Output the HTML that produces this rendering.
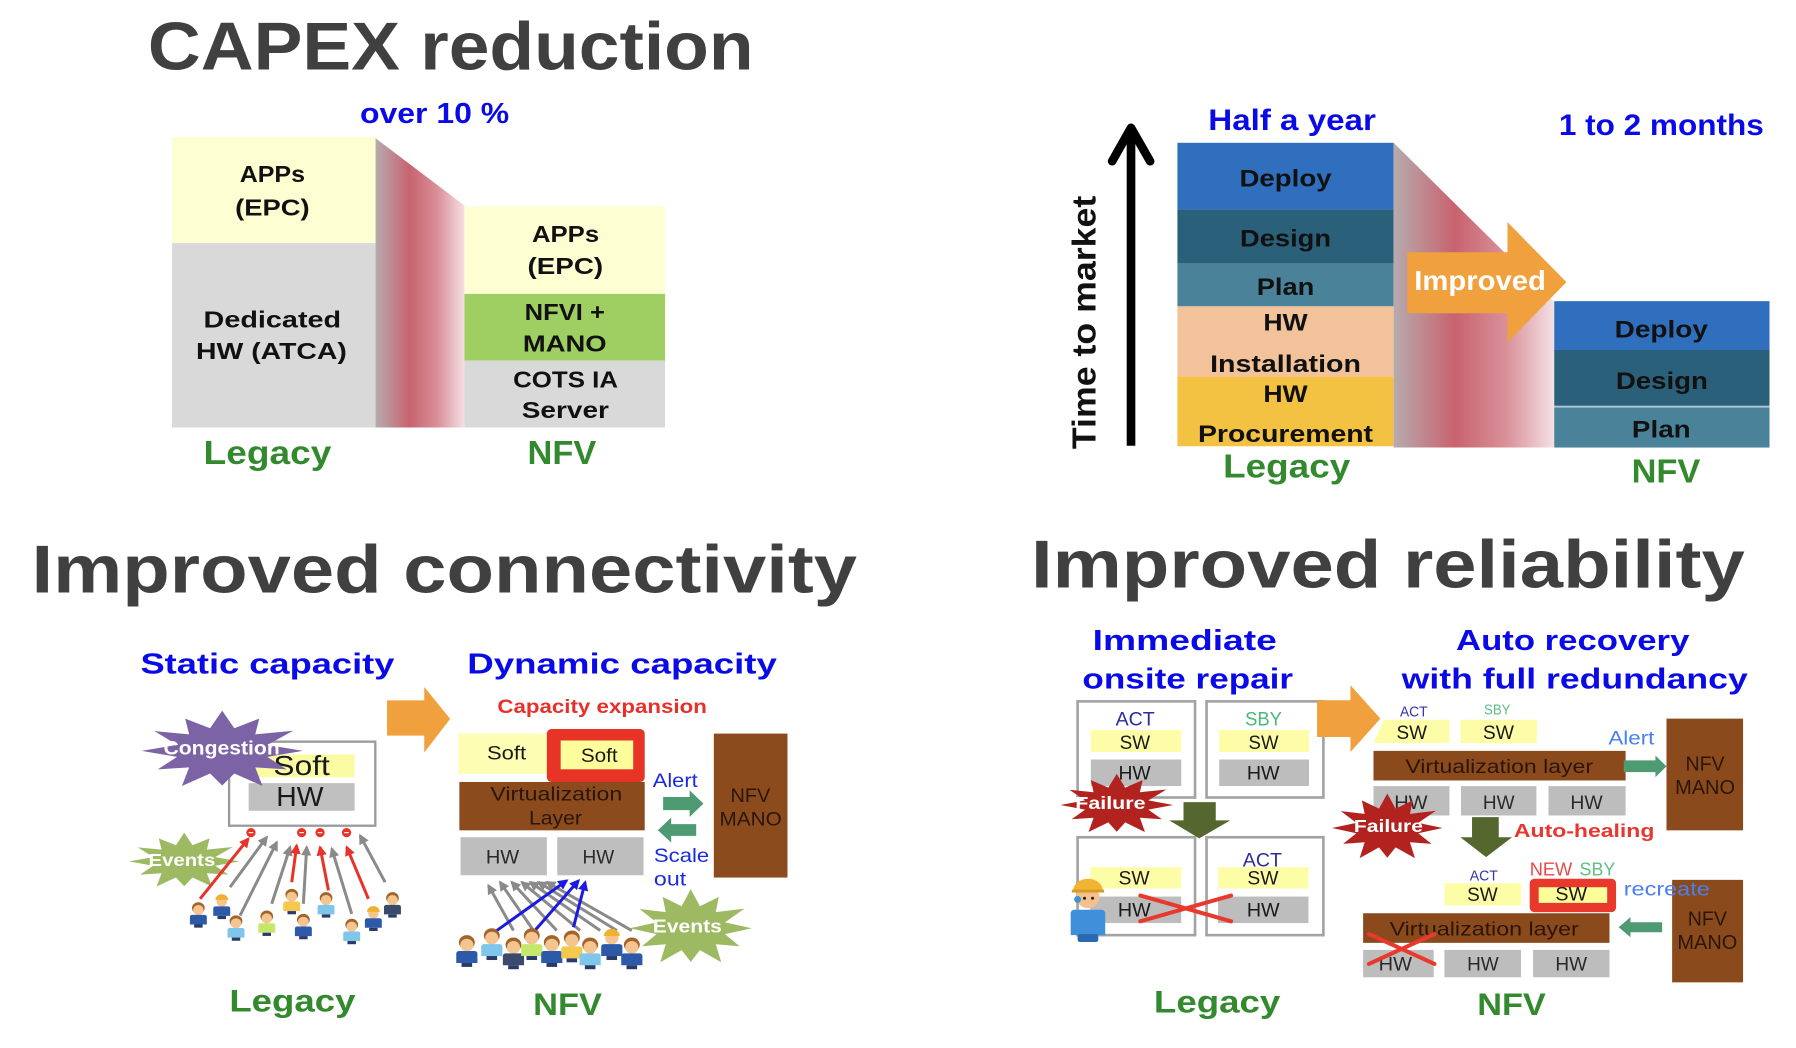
<!DOCTYPE html>
<html>
<head>
<meta charset="utf-8">
<style>
html,body{margin:0;padding:0;background:#fff;}
svg{display:block;}
text{font-family:"Liberation Sans",Arial,sans-serif;}
.b{font-weight:bold;}
</style>
</head>
<body>
<svg width="1796" height="1048" viewBox="0 0 1560 910" preserveAspectRatio="none" xmlns="http://www.w3.org/2000/svg">
<defs>
  <linearGradient id="band" x1="0" y1="0" x2="1" y2="0">
    <stop offset="0" stop-color="#b6abae"/>
    <stop offset="0.38" stop-color="#c8636f"/>
    <stop offset="0.7" stop-color="#d99099"/>
    <stop offset="1" stop-color="#f4e0e4"/>
  </linearGradient>
  <polygon id="star" points="1,0 0.56,0.15 0.8,0.46 0.41,0.41 0.5,0.87 0.15,0.56 0,0.86 -0.15,0.56 -0.5,0.87 -0.41,0.41 -0.8,0.46 -0.56,0.15 -1,0 -0.56,-0.15 -0.84,-0.49 -0.41,-0.41 -0.46,-0.8 -0.15,-0.56 0,-1 0.15,-0.56 0.46,-0.8 0.41,-0.41 0.88,-0.5 0.56,-0.15"/>
  <marker id="mg" viewBox="0 0 10 10" refX="8" refY="5" markerWidth="9" markerHeight="9" markerUnits="userSpaceOnUse" orient="auto"><path d="M0,0 L10,5 L0,10 z" fill="#8a8a8a"/></marker>
  <marker id="mr" viewBox="0 0 10 10" refX="8" refY="5" markerWidth="9" markerHeight="9" markerUnits="userSpaceOnUse" orient="auto"><path d="M0,0 L10,5 L0,10 z" fill="#e8322a"/></marker>
  <marker id="mb" viewBox="0 0 10 10" refX="8" refY="5" markerWidth="9" markerHeight="9" markerUnits="userSpaceOnUse" orient="auto"><path d="M0,0 L10,5 L0,10 z" fill="#1a1ae0"/></marker>
  <g id="person">
    <ellipse cx="0" cy="5.5" rx="6" ry="5.5" fill="#a3642c"/>
    <ellipse cx="0" cy="7.5" rx="5" ry="4.8" fill="#f5c590"/>
    <path d="M-6,12 h12 a2,2 0 0 1 2,2 v7 h-16 v-7 a2,2 0 0 1 2,-2z" fill="currentColor"/>
    <rect x="-4" y="21" width="8" height="3" fill="#2a3a6a"/>
  </g>
  <g id="worker">
    <ellipse cx="0" cy="7.5" rx="5" ry="4.8" fill="#f5c590"/>
    <path d="M-6,6 a6,5.5 0 0 1 12,0 z" fill="#f0b030"/>
    <path d="M-6,12 h12 a2,2 0 0 1 2,2 v7 h-16 v-7 a2,2 0 0 1 2,-2z" fill="currentColor"/>
    <rect x="-4" y="21" width="8" height="3" fill="#2a3a6a"/>
  </g>
</defs>

<!-- ================= CAPEX reduction ================= -->
<text class="b" x="128.5" y="60.3" font-size="59" fill="#404040" textLength="526" lengthAdjust="spacingAndGlyphs">CAPEX reduction</text>
<text class="b" x="312.7" y="106.7" font-size="25" fill="#0a0ae8" textLength="129.5" lengthAdjust="spacingAndGlyphs">over 10 %</text>

<rect x="149.4" y="119" width="176.8" height="92.1" fill="#fefed3"/>
<rect x="149.4" y="211.1" width="176.8" height="160.1" fill="#d9d9d9"/>
<polygon points="326.2,120 403.4,178.4 403.4,371.2 326.2,371.2" fill="url(#band)"/>
<rect x="403.4" y="179.2" width="174.3" height="76" fill="#fefed3"/>
<rect x="403.4" y="255.2" width="174.3" height="58" fill="#9fcf63"/>
<rect x="403.4" y="313.2" width="174.3" height="58" fill="#d9d9d9"/>

<text class="b" x="208.2" y="158" font-size="20" fill="#111" textLength="56.7" lengthAdjust="spacingAndGlyphs">APPs</text>
<text class="b" x="204.2" y="187" font-size="20" fill="#111" textLength="64.7" lengthAdjust="spacingAndGlyphs">(EPC)</text>
<text class="b" x="176.8" y="284.2" font-size="20" fill="#111" textLength="119.5" lengthAdjust="spacingAndGlyphs">Dedicated</text>
<text class="b" x="170.3" y="311.8" font-size="20" fill="#111" textLength="131" lengthAdjust="spacingAndGlyphs">HW (ATCA)</text>

<text class="b" x="462.1" y="210.3" font-size="20" fill="#111" textLength="58.3" lengthAdjust="spacingAndGlyphs">APPs</text>
<text class="b" x="458.2" y="237.8" font-size="20" fill="#111" textLength="65.7" lengthAdjust="spacingAndGlyphs">(EPC)</text>
<text class="b" x="455.7" y="277.8" font-size="20" fill="#111" textLength="69.7" lengthAdjust="spacingAndGlyphs">NFVI +</text>
<text class="b" x="454.2" y="305.1" font-size="20" fill="#111" textLength="72.7" lengthAdjust="spacingAndGlyphs">MANO</text>
<text class="b" x="445.7" y="336.4" font-size="20" fill="#111" textLength="91.1" lengthAdjust="spacingAndGlyphs">COTS IA</text>
<text class="b" x="453.2" y="363.1" font-size="20" fill="#111" textLength="75.7" lengthAdjust="spacingAndGlyphs">Server</text>

<text class="b" x="176.8" y="403.1" font-size="29" fill="#338a2e" textLength="111" lengthAdjust="spacingAndGlyphs">Legacy</text>
<text class="b" x="458.2" y="403.1" font-size="29" fill="#338a2e" textLength="59.7" lengthAdjust="spacingAndGlyphs">NFV</text>

<!-- ================= Time to market ================= -->
<text class="b" x="1049.5" y="113.1" font-size="26" fill="#0a0ae8" textLength="145.6" lengthAdjust="spacingAndGlyphs">Half a year</text>
<text class="b" x="1354" y="117.3" font-size="26" fill="#0a0ae8" textLength="178" lengthAdjust="spacingAndGlyphs">1 to 2 months</text>

<line x1="982.4" y1="387" x2="982.4" y2="114" stroke="#000" stroke-width="7.5"/>
<polyline points="966,140 982.4,111 999,140" fill="none" stroke="#000" stroke-width="7.5" stroke-linecap="round" stroke-linejoin="round"/>
<text class="b" transform="translate(951.6,390) rotate(-90)" font-size="29" fill="#111" textLength="220" lengthAdjust="spacingAndGlyphs">Time to market</text>

<rect x="1022.7" y="124" width="187.8" height="58" fill="#2f6fbe"/>
<rect x="1022.7" y="182" width="187.8" height="47" fill="#2a6079"/>
<rect x="1022.7" y="229" width="187.8" height="37" fill="#4a8399"/>
<rect x="1022.7" y="266" width="187.8" height="61" fill="#f2c39b"/>
<rect x="1022.7" y="327" width="187.8" height="60.5" fill="#f4c243"/>
<polygon points="1210.5,124 1350,262 1350,388.6 1210.5,388.6" fill="url(#band)"/>
<rect x="1350" y="261.5" width="187" height="42.4" fill="#2f6fbe"/>
<rect x="1350" y="303.9" width="187" height="48.5" fill="#2a6079"/>
<rect x="1350" y="352.4" width="187" height="1.5" fill="#a9c7d4"/>
<rect x="1350" y="353.9" width="187" height="34.7" fill="#4a8399"/>

<path d="M1222.4,219 H1309.4 V192.9 L1360.6,245 L1309.4,297.3 V272 H1222.4 Z" fill="#f0a03c"/>
<text class="b" x="1228.4" y="251.7" font-size="24" fill="#fff" textLength="114.3" lengthAdjust="spacingAndGlyphs">Improved</text>

<g text-anchor="middle">
<text class="b" x="1116.6" y="162" font-size="21" fill="#111" textLength="80" lengthAdjust="spacingAndGlyphs">Deploy</text>
<text class="b" x="1116.6" y="214" font-size="21" fill="#111" textLength="79" lengthAdjust="spacingAndGlyphs">Design</text>
<text class="b" x="1116.6" y="256" font-size="21" fill="#111" textLength="50" lengthAdjust="spacingAndGlyphs">Plan</text>
<text class="b" x="1116.6" y="287" font-size="21" fill="#111" textLength="38.5" lengthAdjust="spacingAndGlyphs">HW</text>
<text class="b" x="1116.6" y="323" font-size="21" fill="#111" textLength="131" lengthAdjust="spacingAndGlyphs">Installation</text>
<text class="b" x="1116.6" y="349" font-size="21" fill="#111" textLength="38.5" lengthAdjust="spacingAndGlyphs">HW</text>
<text class="b" x="1116.6" y="384" font-size="21" fill="#111" textLength="152" lengthAdjust="spacingAndGlyphs">Procurement</text>

<text class="b" x="1443" y="292.9" font-size="21" fill="#111" textLength="81" lengthAdjust="spacingAndGlyphs">Deploy</text>
<text class="b" x="1443.5" y="337.9" font-size="21" fill="#111" textLength="80" lengthAdjust="spacingAndGlyphs">Design</text>
<text class="b" x="1443" y="379.9" font-size="21" fill="#111" textLength="51" lengthAdjust="spacingAndGlyphs">Plan</text>
</g>

<text class="b" x="1062.4" y="414.7" font-size="29" fill="#338a2e" textLength="110.4" lengthAdjust="spacingAndGlyphs">Legacy</text>
<text class="b" x="1417.2" y="419" font-size="29" fill="#338a2e" textLength="59.7" lengthAdjust="spacingAndGlyphs">NFV</text>

<!-- ================= Improved connectivity ================= -->
<text class="b" x="27.4" y="514.6" font-size="59" fill="#404040" textLength="717" lengthAdjust="spacingAndGlyphs">Improved connectivity</text>
<text class="b" x="122" y="584.8" font-size="25" fill="#0a0ae8" textLength="220.6" lengthAdjust="spacingAndGlyphs">Static capacity</text>
<text class="b" x="405.9" y="584.8" font-size="25" fill="#0a0ae8" textLength="268.9" lengthAdjust="spacingAndGlyphs">Dynamic capacity</text>
<path d="M336.2,608.1 H368.5 V596.4 L391,624.2 L368.5,653.4 V638.8 H336.2 Z" fill="#f0a03c"/>

<!-- legacy box -->
<rect x="199" y="644" width="127" height="73" fill="#fff" stroke="#9a9a9a" stroke-width="2"/>
<rect x="216" y="655" width="92" height="20" fill="#fbfba4"/>
<rect x="216" y="680" width="92" height="24" fill="#c0c0c0"/>
<text x="237.5" y="673" font-size="24" fill="#1a1a1a" textLength="49" lengthAdjust="spacingAndGlyphs">Soft</text>
<text x="240" y="700" font-size="24" fill="#1a1a1a" textLength="41" lengthAdjust="spacingAndGlyphs">HW</text>
<use href="#star" transform="translate(193,652) scale(70,35)" fill="#7c63a5"/>
<text class="b" x="142" y="655" font-size="17" fill="#fff" textLength="101" lengthAdjust="spacingAndGlyphs">Congestion</text>

<use href="#star" transform="translate(160,748) scale(48,25)" fill="#9dba63"/>
<text class="b" x="129" y="752" font-size="15" fill="#fff" textLength="58" lengthAdjust="spacingAndGlyphs">Events</text>

<g stroke-width="2.6" fill="none">
  <line x1="173.8" y1="780.5" x2="215.7" y2="728.3" stroke="#e8322a" marker-end="url(#mr)"/>
  <line x1="199.8" y1="770.3" x2="231.7" y2="726.9" stroke="#8a8a8a" marker-end="url(#mg)"/>
  <line x1="208.5" y1="795" x2="240.4" y2="731.3" stroke="#8a8a8a" marker-end="url(#mg)"/>
  <line x1="236" y1="784.8" x2="252" y2="735.6" stroke="#8a8a8a" marker-end="url(#mg)"/>
  <line x1="253.4" y1="766" x2="257.7" y2="734.1" stroke="#e8322a" marker-end="url(#mr)"/>
  <line x1="263.5" y1="784.8" x2="266.4" y2="735.6" stroke="#8a8a8a" marker-end="url(#mg)"/>
  <line x1="285.3" y1="773.2" x2="278" y2="735.6" stroke="#e8322a" marker-end="url(#mr)"/>
  <line x1="305.5" y1="793.5" x2="288.2" y2="737" stroke="#8a8a8a" marker-end="url(#mg)"/>
  <line x1="320" y1="780.5" x2="301.2" y2="735.6" stroke="#e8322a" marker-end="url(#mr)"/>
  <line x1="334.5" y1="766" x2="312.8" y2="725.5" stroke="#8a8a8a" marker-end="url(#mg)"/>
</g>
<g fill="#e8322a">
  <circle cx="218" cy="723" r="4"/>
  <circle cx="262" cy="723" r="4"/>
  <circle cx="278" cy="723" r="4"/>
  <circle cx="301" cy="723" r="4"/>
</g>
<g fill="#fff"><rect x="216" y="722.5" width="4" height="1"/><rect x="260" y="722.5" width="4" height="1"/><rect x="276" y="722.5" width="4" height="1"/><rect x="299" y="722.5" width="4" height="1"/></g>

<use href="#person" color="#2d5aa8" transform="translate(172.3,783.4) scale(0.92)"/>
<use href="#worker" color="#2d5aa8" transform="translate(192.6,776) scale(0.92)"/>
<use href="#person" color="#7ec6ea" transform="translate(205,794.8) scale(0.92)"/>
<use href="#person" color="#c5e86c" transform="translate(231.7,790.6) scale(0.92)"/>
<use href="#person" color="#f5c94d" transform="translate(253.4,771.8) scale(0.92)"/>
<use href="#person" color="#2d5aa8" transform="translate(263.5,793.5) scale(0.92)"/>
<use href="#person" color="#7ec6ea" transform="translate(283.2,774.7) scale(0.92)"/>
<use href="#person" color="#7ec6ea" transform="translate(305.5,797.8) scale(0.92)"/>
<use href="#worker" color="#2d5aa8" transform="translate(324.3,786.3) scale(0.92)"/>
<use href="#person" color="#3a4a6a" transform="translate(340.9,774.7) scale(0.92)"/>

<!-- NFV connectivity -->
<text class="b" x="432" y="619" font-size="17" fill="#e8302a" textLength="182" lengthAdjust="spacingAndGlyphs">Capacity expansion</text>
<rect x="398" y="637" width="77" height="35" fill="#fdfdb4"/>
<text x="423" y="659.7" font-size="17" fill="#1a1a1a" textLength="34" lengthAdjust="spacingAndGlyphs">Soft</text>
<rect x="475" y="633" width="85" height="46" rx="4" fill="#e83426"/>
<rect x="487" y="643" width="63" height="25" fill="#fdfd9c"/>
<text x="504.5" y="661.7" font-size="17" fill="#1a1a1a" textLength="32" lengthAdjust="spacingAndGlyphs">Soft</text>
<rect x="399" y="679" width="161" height="42" fill="#8b4b1d"/>
<text x="426" y="695" font-size="17" fill="#2a1608" textLength="114.5" lengthAdjust="spacingAndGlyphs">Virtualization</text>
<text x="459.5" y="716" font-size="17" fill="#2a1608" textLength="46" lengthAdjust="spacingAndGlyphs">Layer</text>
<rect x="400" y="727" width="75" height="33" fill="#bebebe"/>
<rect x="484" y="727" width="75" height="33" fill="#bebebe"/>
<text x="422" y="750" font-size="17" fill="#2a2a2a" textLength="29" lengthAdjust="spacingAndGlyphs">HW</text>
<text x="506" y="750" font-size="17" fill="#2a2a2a" textLength="27.5" lengthAdjust="spacingAndGlyphs">HW</text>
<rect x="620" y="637" width="64" height="125" fill="#8b4b1d"/>
<text x="634.5" y="696.5" font-size="17" fill="#2a1608" textLength="34.5" lengthAdjust="spacingAndGlyphs">NFV</text>
<text x="625" y="717" font-size="17" fill="#2a1608" textLength="54" lengthAdjust="spacingAndGlyphs">MANO</text>
<text x="567" y="683.3" font-size="17" fill="#1a2ae0" textLength="39" lengthAdjust="spacingAndGlyphs">Alert</text>
<text x="568" y="748.6" font-size="17" fill="#1a2ae0" textLength="48" lengthAdjust="spacingAndGlyphs">Scale</text>
<text x="568" y="769" font-size="17" fill="#1a2ae0" textLength="28" lengthAdjust="spacingAndGlyphs">out</text>
<path d="M576,692 H599 V686.2 L611,697.8 L599,709.3 V703.5 H576 Z" fill="#4e9a72"/>
<path d="M571.4,720.9 L583,709.9 V715.6 H604.7 V725.8 H583 V731.6 Z" fill="#4e9a72"/>

<g stroke-width="2.6" fill="none">
  <line x1="446" y1="808" x2="424.3" y2="768.9" stroke="#8a8a8a" marker-end="url(#mg)"/>
  <line x1="463.4" y1="808" x2="434.4" y2="766" stroke="#8a8a8a" marker-end="url(#mg)"/>
  <line x1="483.6" y1="808" x2="444.5" y2="766" stroke="#8a8a8a" marker-end="url(#mg)"/>
  <line x1="503.9" y1="808" x2="453.2" y2="766" stroke="#8a8a8a" marker-end="url(#mg)"/>
  <line x1="521.3" y1="808" x2="460.5" y2="766" stroke="#8a8a8a" marker-end="url(#mg)"/>
  <line x1="535.8" y1="808" x2="467.7" y2="766" stroke="#8a8a8a" marker-end="url(#mg)"/>
  <line x1="548.8" y1="808" x2="475" y2="766" stroke="#8a8a8a" marker-end="url(#mg)"/>
  <line x1="431.5" y1="808" x2="492.3" y2="764.6" stroke="#1a1ae0" marker-end="url(#mb)"/>
  <line x1="463.4" y1="809.4" x2="502.5" y2="764.6" stroke="#1a1ae0" marker-end="url(#mb)"/>
  <line x1="498.1" y1="805.1" x2="508.3" y2="766" stroke="#1a1ae0" marker-end="url(#mb)"/>
</g>
<use href="#star" transform="translate(600,806) scale(53,34)" fill="#9dba63"/>
<text class="b" x="567" y="809.5" font-size="16" fill="#fff" textLength="60" lengthAdjust="spacingAndGlyphs">Events</text>

<use href="#person" color="#2d5aa8" transform="translate(405.5,812) scale(1.15)"/>
<use href="#person" color="#7ec6ea" transform="translate(427.2,806) scale(1.15)"/>
<use href="#person" color="#3a4a6a" transform="translate(446,814) scale(1.15)"/>
<use href="#person" color="#c5e86c" transform="translate(461.9,806) scale(1.15)"/>
<use href="#person" color="#2d5aa8" transform="translate(479.3,812) scale(1.15)"/>
<use href="#person" color="#f5c94d" transform="translate(496.7,808) scale(1.15)"/>
<use href="#person" color="#7ec6ea" transform="translate(512.6,814) scale(1.15)"/>
<use href="#worker" color="#2d5aa8" transform="translate(531.4,806) scale(1.15)"/>
<use href="#person" color="#2d5aa8" transform="translate(548.8,814) scale(1.15)"/>

<text class="b" x="199.2" y="878.4" font-size="27" fill="#338a2e" textLength="109.6" lengthAdjust="spacingAndGlyphs">Legacy</text>
<text class="b" x="463.1" y="881.3" font-size="27" fill="#338a2e" textLength="59.8" lengthAdjust="spacingAndGlyphs">NFV</text>

<!-- ================= Improved reliability ================= -->
<text class="b" x="895.5" y="510.2" font-size="59" fill="#404040" textLength="620" lengthAdjust="spacingAndGlyphs">Improved reliability</text>
<text class="b" x="949.1" y="564.3" font-size="25" fill="#0a0ae8" textLength="160" lengthAdjust="spacingAndGlyphs">Immediate</text>
<text class="b" x="940.2" y="597.9" font-size="25" fill="#0a0ae8" textLength="183" lengthAdjust="spacingAndGlyphs">onsite repair</text>
<text class="b" x="1264.7" y="564.3" font-size="25" fill="#0a0ae8" textLength="202.7" lengthAdjust="spacingAndGlyphs">Auto recovery</text>
<text class="b" x="1217.5" y="597.9" font-size="25" fill="#0a0ae8" textLength="300.6" lengthAdjust="spacingAndGlyphs">with full redundancy</text>

<!-- legacy boxes -->
<g fill="#fff" stroke="#a3a3a3" stroke-width="2.3">
  <rect x="936" y="609" width="102" height="83.5"/>
  <rect x="1048" y="609" width="101.5" height="83.5"/>
  <rect x="936" y="727" width="102" height="85"/>
  <rect x="1048" y="727" width="101.5" height="85"/>
</g>
<rect x="947.5" y="634" width="78.5" height="19" fill="#fdfda8"/>
<rect x="947.5" y="659.5" width="78.5" height="23" fill="#bdbdbd"/>
<rect x="1059" y="634" width="78" height="19" fill="#fdfda8"/>
<rect x="1059" y="659.5" width="78" height="23" fill="#bdbdbd"/>
<rect x="947" y="753" width="79" height="18.5" fill="#fdfda8"/>
<rect x="947" y="778.5" width="79" height="23" fill="#bdbdbd"/>
<rect x="1058" y="753" width="78.5" height="18.5" fill="#fdfda8"/>
<rect x="1058" y="778.5" width="78.5" height="23" fill="#bdbdbd"/>

<text x="969" y="630" font-size="17" fill="#2c2c9c" textLength="34" lengthAdjust="spacingAndGlyphs">ACT</text>
<text x="1081.5" y="630" font-size="17" fill="#4cb878" textLength="32" lengthAdjust="spacingAndGlyphs">SBY</text>
<text x="972.5" y="650.3" font-size="17" fill="#1a1a1a" textLength="26.5" lengthAdjust="spacingAndGlyphs">SW</text>
<text x="971.5" y="677" font-size="17" fill="#1a1a1a" textLength="28" lengthAdjust="spacingAndGlyphs">HW</text>
<text x="1084.5" y="650.3" font-size="17" fill="#1a1a1a" textLength="26" lengthAdjust="spacingAndGlyphs">SW</text>
<text x="1083" y="677" font-size="17" fill="#1a1a1a" textLength="28.5" lengthAdjust="spacingAndGlyphs">HW</text>
<text x="971.5" y="768" font-size="17" fill="#1a1a1a" textLength="27" lengthAdjust="spacingAndGlyphs">SW</text>
<text x="971" y="795.8" font-size="17" fill="#1a1a1a" textLength="28.5" lengthAdjust="spacingAndGlyphs">HW</text>
<text x="1079.5" y="752.4" font-size="17" fill="#2c2c9c" textLength="34" lengthAdjust="spacingAndGlyphs">ACT</text>
<text x="1083.5" y="768" font-size="17" fill="#1a1a1a" textLength="27" lengthAdjust="spacingAndGlyphs">SW</text>
<text x="1083" y="795.8" font-size="17" fill="#1a1a1a" textLength="28.5" lengthAdjust="spacingAndGlyphs">HW</text>

<g stroke="#e8392c" stroke-width="3.5" stroke-linecap="round">
  <line x1="990.5" y1="777.6" x2="1069.3" y2="800"/>
  <line x1="990.5" y1="800" x2="1069.3" y2="777.6"/>
</g>

<use href="#star" transform="translate(970,699) scale(49,27)" fill="#b2231f"/>
<text class="b" x="934" y="702.3" font-size="15" fill="#fff" textLength="61" lengthAdjust="spacingAndGlyphs">Failure</text>
<path d="M1028,696.5 H1056 V712.4 H1068.6 L1041.7,728 L1015.6,712.4 H1028 Z" fill="#55672f"/>

<!-- worker -->
<g>
  <path d="M933,790 h24 a3,3 0 0 1 3,3 v19 h-30 v-19 a3,3 0 0 1 3,-3z" fill="#3f8fdb"/>
  <rect x="936" y="811" width="18" height="7" rx="2" fill="#2a6ab0"/>
  <ellipse cx="945" cy="779" rx="10" ry="9.5" fill="#f3c18d"/>
  <path d="M932,774 a13,11 0 0 1 26,0 z" fill="#f0b432"/>
  <rect x="931" y="772.5" width="28" height="2.5" fill="#d99a20"/>
  <circle cx="936" cy="781" r="3" fill="#3f8fdb"/>
  <circle cx="942" cy="780" r="1.3" fill="#222"/>
  <circle cx="949" cy="780" r="1.3" fill="#222"/>
</g>
<path d="M1144,608 H1173 V595 L1199,624 L1173,653 V640 H1144 Z" fill="#f0a03c"/>

<!-- NFV reliability -->
<text x="1216" y="622" font-size="13" fill="#3535a8" textLength="24" lengthAdjust="spacingAndGlyphs">ACT</text>
<text x="1289" y="620.3" font-size="13" fill="#5cc080" textLength="23" lengthAdjust="spacingAndGlyphs">SBY</text>
<polygon points="1202,625 1259,625 1259,645.3 1193,645.3" fill="#fdfda8"/>
<rect x="1268.5" y="625" width="66.5" height="20.3" fill="#fdfda8"/>
<text x="1213" y="641.5" font-size="17" fill="#1a1a1a" textLength="26.5" lengthAdjust="spacingAndGlyphs">SW</text>
<text x="1288" y="641.5" font-size="17" fill="#1a1a1a" textLength="27" lengthAdjust="spacingAndGlyphs">SW</text>
<rect x="1193" y="652" width="219" height="25.7" fill="#8b4a1b"/>
<text x="1220.7" y="671.3" font-size="17" fill="#2a1508" textLength="163" lengthAdjust="spacingAndGlyphs">Virtualization layer</text>
<rect x="1193" y="682.6" width="66" height="25.5" fill="#bdbdbd"/>
<rect x="1269" y="682.6" width="65.5" height="25.5" fill="#bdbdbd"/>
<rect x="1345" y="682.6" width="67" height="25.5" fill="#bdbdbd"/>
<text x="1211" y="702.3" font-size="17" fill="#2a2a2a" textLength="29" lengthAdjust="spacingAndGlyphs">HW</text>
<text x="1288" y="702.3" font-size="17" fill="#2a2a2a" textLength="27.5" lengthAdjust="spacingAndGlyphs">HW</text>
<text x="1364" y="702.3" font-size="17" fill="#2a2a2a" textLength="28" lengthAdjust="spacingAndGlyphs">HW</text>
<text x="1397" y="646.4" font-size="17" fill="#4a7ff0" textLength="40" lengthAdjust="spacingAndGlyphs">Alert</text>
<path d="M1410.4,660.3 H1437.9 V656 L1447.5,665.5 L1437.9,674.8 V670.5 H1410.4 Z" fill="#4e9a72"/>
<rect x="1447.5" y="624" width="66.5" height="97" fill="#8b4a1b"/>
<text x="1481" y="669" font-size="18" fill="#2a1508" text-anchor="middle" textLength="34" lengthAdjust="spacingAndGlyphs">NFV</text>
<text x="1481" y="689.3" font-size="18" fill="#2a1508" text-anchor="middle" textLength="52" lengthAdjust="spacingAndGlyphs">MANO</text>

<use href="#star" transform="translate(1205,719) scale(48,30)" fill="#b2231f"/>
<text class="b" x="1176" y="722.5" font-size="15" fill="#fff" textLength="60" lengthAdjust="spacingAndGlyphs">Failure</text>
<path d="M1278.6,709.5 H1301.8 V727 H1313.4 L1290.8,744.3 L1268.5,727 H1278.6 Z" fill="#55672f"/>
<text class="b" x="1315" y="727" font-size="16" fill="#e8372f" textLength="122" lengthAdjust="spacingAndGlyphs">Auto-healing</text>

<text x="1276.6" y="764.6" font-size="13" fill="#3535a8" textLength="24.5" lengthAdjust="spacingAndGlyphs">ACT</text>
<text x="1328.7" y="760.2" font-size="16" fill="#e84848" textLength="37" lengthAdjust="spacingAndGlyphs">NEW</text>
<text x="1372" y="760.2" font-size="16" fill="#5cc080" textLength="31" lengthAdjust="spacingAndGlyphs">SBY</text>
<rect x="1254.6" y="766.9" width="66.6" height="19.4" fill="#fdfda8"/>
<text x="1274.3" y="782.5" font-size="17" fill="#1a1a1a" textLength="26.6" lengthAdjust="spacingAndGlyphs">SW</text>
<rect x="1328.7" y="763" width="75" height="29" rx="4" fill="#e8392c"/>
<rect x="1336.5" y="770.4" width="59.5" height="13.6" fill="#fdfd9a"/>
<text x="1351" y="782" font-size="17" fill="#1a1a1a" textLength="27.5" lengthAdjust="spacingAndGlyphs">SW</text>

<rect x="1184" y="793" width="214" height="25.7" fill="#8b4a1b"/>
<text x="1207" y="812.4" font-size="17" fill="#2a1508" textLength="164.3" lengthAdjust="spacingAndGlyphs">Virtualization layer</text>
<rect x="1184" y="824.8" width="61.3" height="23.8" fill="#bdbdbd"/>
<rect x="1254.6" y="824.8" width="66.6" height="23.8" fill="#bdbdbd"/>
<rect x="1331.6" y="824.8" width="66.4" height="23.8" fill="#bdbdbd"/>
<text x="1197.5" y="842.8" font-size="17" fill="#2a2a2a" textLength="29" lengthAdjust="spacingAndGlyphs">HW</text>
<text x="1274.3" y="842.8" font-size="17" fill="#2a2a2a" textLength="27.5" lengthAdjust="spacingAndGlyphs">HW</text>
<text x="1351" y="842.8" font-size="17" fill="#2a2a2a" textLength="27.5" lengthAdjust="spacingAndGlyphs">HW</text>
<g stroke="#e8392c" stroke-width="3.5" stroke-linecap="round">
  <line x1="1189" y1="811" x2="1246" y2="837"/>
  <line x1="1189" y1="837" x2="1246" y2="811"/>
</g>
<path d="M1406,805.1 L1416.2,796.4 V800.8 H1443.7 V809.5 H1416.2 V813.8 Z" fill="#4e9a72"/>
<rect x="1452.4" y="764" width="61.6" height="89" fill="#8b4a1b"/>
<text x="1483" y="803.7" font-size="18" fill="#2a1508" text-anchor="middle" textLength="34" lengthAdjust="spacingAndGlyphs">NFV</text>
<text x="1483" y="824" font-size="18" fill="#2a1508" text-anchor="middle" textLength="52" lengthAdjust="spacingAndGlyphs">MANO</text>
<text x="1410.4" y="777.6" font-size="17" fill="#4a7ff0" textLength="74.7" lengthAdjust="spacingAndGlyphs">recreate</text>

<text class="b" x="1002.3" y="879" font-size="27" fill="#338a2e" textLength="109.8" lengthAdjust="spacingAndGlyphs">Legacy</text>
<text class="b" x="1283.1" y="881.3" font-size="27" fill="#338a2e" textLength="59.6" lengthAdjust="spacingAndGlyphs">NFV</text>
</svg>
</body>
</html>
